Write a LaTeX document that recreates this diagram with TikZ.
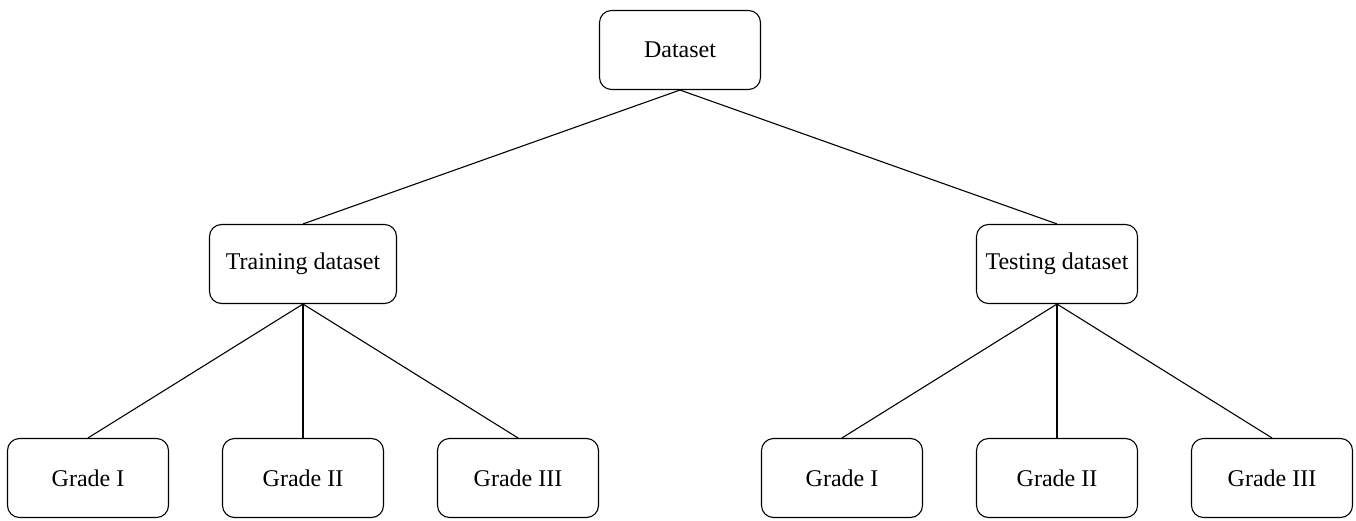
\documentclass[tikz,border=0pt]{standalone}
\usepackage{fontspec}
\setmainfont{Liberation Serif}
\usetikzlibrary{trees}

\begin{document}
\begin{tikzpicture}[x=1pt,y=1pt,
	box/.style={draw, line width=1.1pt, rounded corners=12pt, minimum width=161pt, minimum height=79pt, inner xsep=4pt, font=\fontsize{24}{29}\selectfont},
	level distance=214pt,
	level 1/.style={sibling distance=754pt},
	level 2/.style={sibling distance=215pt},
	edge from parent/.style={draw, line width=1.1pt},
	edge from parent path={(\tikzparentnode.south) -- (\tikzchildnode.north)}]
	\useasboundingbox (0,0) rectangle (1356,-521);
 	\path
	node[box] (dataset) at (680,-50) {Dataset}
	child {
		node[box, minimum width=187pt] (train) {Training dataset}
			child {node[box] (trainI) {Grade I}}
			child {node[box] (trainII) {Grade II}}
			child {node[box] (trainIII) {Grade III}}
	}
	child {
		node[box] (test) {Testing dataset}
			child {node[box] (testI) {Grade I}}
			child {node[box] (testII) {Grade II}}
			child {node[box] (testIII) {Grade III}}
	}
;
\end{tikzpicture}
\end{document}
